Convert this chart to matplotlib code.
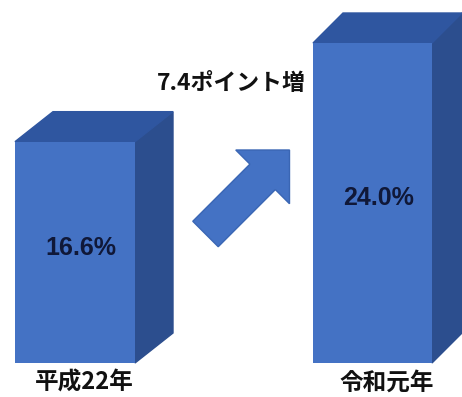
import matplotlib
matplotlib.use("Agg")
import matplotlib.pyplot as plt
from matplotlib.patches import Polygon, FancyArrow
from matplotlib.transforms import IdentityTransform

categories = ["平成22年", "令和元年"]
values = [16.6, 24.0]

# layout (x in pixels, y in percent)
x_left = [15, 313]
bar_w = [120, 119]
depth_dx = [38, 30]
depth_px = 30
px_per_unit = 320 / 24.0

front = "#4472C4"
side = "#2C4E8E"
top = "#2F56A0"

fig = plt.figure(figsize=(4.62, 3.97), dpi=100)
ax = fig.add_axes([0, 0, 1, 1])
ax.set_xlim(0, 462)
ax.set_ylim(-34 / px_per_unit, 24 + 43 / px_per_unit)
ax.axis("off")

dy = depth_px / px_per_unit
ax.bar(x_left, values, width=bar_w, align="edge", color=front, zorder=3)
for x0, w, v, dx in zip(x_left, bar_w, values, depth_dx):
    x1 = x0 + w
    ax.add_patch(Polygon([(x1, 0), (x1 + dx, dy), (x1 + dx, v + dy), (x1, v)],
                         closed=True, color=side, zorder=2))
    ax.add_patch(Polygon([(x0, v), (x0 + dx, v + dy), (x1 + dx, v + dy), (x1, v)],
                         closed=True, color=top, zorder=2))
    ax.text(x0 + w / 2 + 6, v / 2 + 0.35, f"{v:.1f}%", ha="center", va="center",
            fontsize=18, fontweight="bold", color="#101838",
            family=["Liberation Sans", "DejaVu Sans"], zorder=4)

label_x = [84, 387]
for lx, c in zip(label_x, categories):
    ax.text(lx, -1.5, c, ha="center", va="center", fontsize=17, fontweight="bold",
            color="#111111", family=["Noto Sans CJK JP", "DejaVu Sans"])

ax.text(231, 21.0, f"{values[1] - values[0]:.1f}ポイント増", ha="center", va="center",
        fontsize=16.5, fontweight="bold", color="#111111",
        family=["Noto Sans CJK JP", "DejaVu Sans"])

# block arrow (display pixels, origin bottom-left)
arrow = FancyArrow(205.5, 397 - 234, 84, 84, width=36, head_width=76, head_length=38,
                   length_includes_head=True, facecolor=front, edgecolor="#3A66B4",
                   linewidth=1, transform=IdentityTransform())
fig.patches.append(arrow)
arrow.set_figure(fig)

fig.savefig("out.png", dpi=100, facecolor="white")
